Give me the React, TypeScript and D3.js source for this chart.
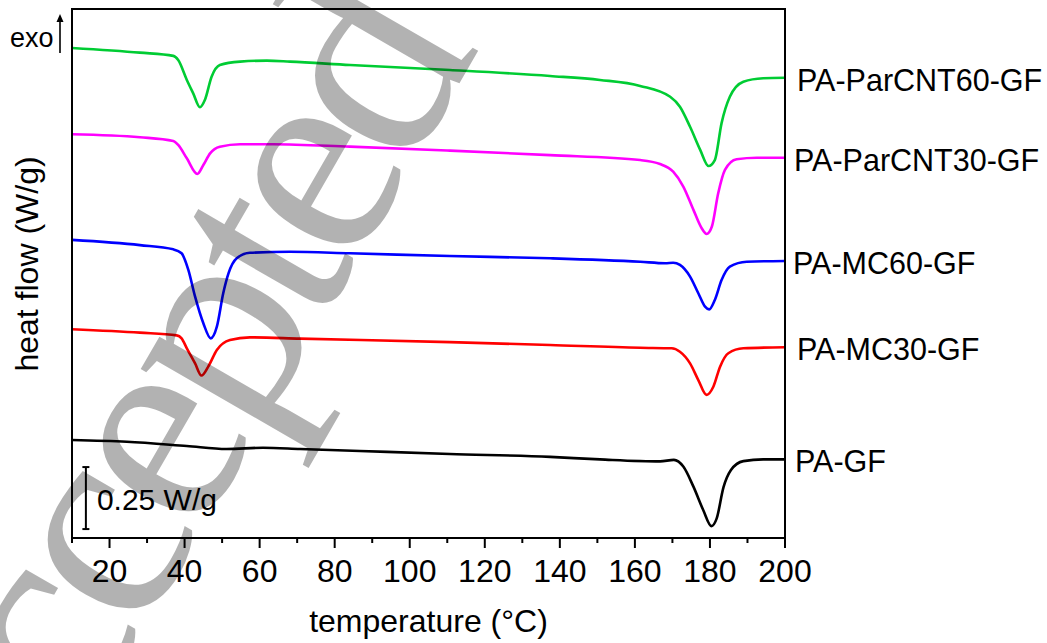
import React from "react";
import * as d3 from "d3";

const W = 1047;
const H = 643;
const M = { left: 72, top: 9, right: 785, bottom: 538 };

const xTicksMajor = [20, 40, 60, 80, 100, 120, 140, 160, 180, 200];
const xTicksMinor = [10, 30, 50, 70, 90, 110, 130, 150, 170, 190];

const seriesNames = ["PA-ParCNT60-GF", "PA-ParCNT30-GF", "PA-MC60-GF", "PA-MC30-GF", "PA-GF"];
const seriesColors = ["#00cc33", "#ff00ff", "#0000ff", "#ff0000", "#000000"];

const parCNT60: [number, number][] = [
  [10, 1.976], [28.1, 1.957], [37.0, 1.944], [38.3, 1.927], [40.6, 1.847], [42.3, 1.793],
  [44.1, 1.737], [45.4, 1.766], [47.2, 1.86], [49.4, 1.907], [54.8, 1.921], [61.9, 1.925],
  [68.1, 1.921], [84.1, 1.907], [110.7, 1.887], [137.4, 1.863], [150.7, 1.847], [161.4, 1.823],
  [169.4, 1.779], [172.0, 1.739], [174.7, 1.658], [177.4, 1.565], [179.6, 1.5], [181.3, 1.524],
  [183.1, 1.673], [185.3, 1.779], [188.9, 1.84], [194.2, 1.854], [200, 1.856],
];
const parCNT30: [number, number][] = [
  [10, 1.628], [28.1, 1.616], [37.0, 1.601], [38.3, 1.585], [40.6, 1.531], [43.4, 1.468],
  [45.0, 1.504], [46.8, 1.551], [49.4, 1.578], [54.8, 1.588], [63.6, 1.588], [84.1, 1.578],
  [110.7, 1.562], [137.4, 1.544], [161.4, 1.524], [166.7, 1.508], [170.2, 1.477], [172.9, 1.417],
  [175.6, 1.323], [177.8, 1.249], [179.1, 1.226], [180.5, 1.255], [182.2, 1.39], [184.0, 1.484],
  [187.1, 1.527], [192.5, 1.533], [200, 1.533],
];
const mc60: [number, number][] = [
  [10, 1.202], [28.1, 1.181], [37.0, 1.164], [39.2, 1.148], [41.0, 1.081], [42.8, 0.973],
  [45.0, 0.866], [47.0, 0.805], [48.6, 0.852], [50.3, 0.987], [51.7, 1.067], [53.9, 1.128],
  [57.4, 1.15], [68.1, 1.154], [84.1, 1.148], [110.7, 1.137], [137.4, 1.128], [161.4, 1.114],
  [168.1, 1.108], [170.2, 1.11], [172.0, 1.101], [174.7, 1.054], [176.9, 0.987], [178.7, 0.933],
  [179.8, 0.922], [181.3, 0.96], [183.1, 1.04], [185.3, 1.094], [189.8, 1.114], [200, 1.117],
];
const mc30: [number, number][] = [
  [10, 0.842], [28.1, 0.828], [37.9, 0.817], [39.2, 0.805], [40.6, 0.765], [42.8, 0.704],
  [44.5, 0.655], [46.3, 0.691], [48.6, 0.758], [52.1, 0.798], [57.4, 0.809], [70.8, 0.804],
  [110.7, 0.79], [137.4, 0.778], [161.4, 0.767], [169.8, 0.765], [172.0, 0.751], [174.7, 0.704],
  [176.9, 0.637], [179.1, 0.577], [180.9, 0.61], [182.7, 0.691], [184.9, 0.745], [188.9, 0.765],
  [200, 0.769],
];
const paGF: [number, number][] = [
  [10, 0.395], [24.6, 0.388], [40.6, 0.371], [51.2, 0.359], [60.9, 0.364], [70.8, 0.359],
  [86.7, 0.351], [110.7, 0.339], [137.4, 0.327], [150.7, 0.317], [166.7, 0.309], [170.4, 0.315],
  [172.9, 0.288], [175.6, 0.207], [178.2, 0.113], [180.4, 0.048], [181.8, 0.079], [183.6, 0.204],
  [185.6, 0.274], [188.9, 0.31], [194.2, 0.317], [200, 0.317],
];
const seriesData = [parCNT60, parCNT30, mc60, mc30, paGF];
const labelDx = [12, 9, 8, 12, 10];

const scaleBarValue = 0.25;
const scaleBarStart = 0.036;
const scaleBarTemp = 13.7;

const watermarkText = "Accepted";

const FONT = "Arial, 'Liberation Sans', sans-serif";

export default function App() {
  const x = d3.scaleLinear().domain([10, 200]).range([M.left, M.right]);
  const y = d3.scaleLinear().domain([0, (M.bottom - M.top) / 248]).range([M.bottom, M.top]);
  const line = d3
    .line<[number, number]>()
    .x((d) => x(d[0]))
    .y((d) => y(d[1]))
    .curve(d3.curveMonotoneX);

  const sbX = x(scaleBarTemp);
  const sbY0 = y(scaleBarStart);
  const sbY1 = y(scaleBarStart + scaleBarValue);

  return (
    <div style={{ position: "absolute", left: 0, top: 0 }}>
      <svg width={W} height={H} style={{ display: "block", background: "#fff" }} fontFamily={FONT}>
        {seriesData.map((s, i) => (
          <path key={i} d={line(s) || ""} fill="none" stroke={seriesColors[i]} strokeWidth={2.6} strokeLinejoin="round" />
        ))}
        {/* frame */}
        <rect x={M.left} y={M.top} width={M.right - M.left} height={M.bottom - M.top} fill="none" stroke="#000" strokeWidth={2} />
        {xTicksMajor.map((t) => (
          <line key={"M" + t} x1={x(t)} x2={x(t)} y1={M.bottom} y2={M.bottom + 10} stroke="#000" strokeWidth={2} />
        ))}
        {xTicksMinor.map((t) => (
          <line key={"m" + t} x1={x(t)} x2={x(t)} y1={M.bottom} y2={M.bottom + 5} stroke="#000" strokeWidth={2} />
        ))}
        {xTicksMajor.map((t) => (
          <text key={"l" + t} x={x(t)} y={582} fontSize={32} textAnchor="middle" fill="#000">
            {t}
          </text>
        ))}
        <text x={(M.left + M.right) / 2} y={632} fontSize={32} textAnchor="middle" fill="#000">
          temperature (°C)
        </text>
        <text transform={`translate(38,264) rotate(-90)`} fontSize={32} textAnchor="middle" fill="#000">
          heat flow (W/g)
        </text>
        {/* exo arrow */}
        <text x={10} y={47} fontSize={27} fill="#000">exo</text>
        <line x1={60} x2={60} y1={18} y2={53} stroke="#000" strokeWidth={1.6} />
        <path d="M60,14 L56.5,22 L63.5,22 Z" fill="#000" />
        {/* scale bar */}
        <line x1={sbX} x2={sbX} y1={sbY0} y2={sbY1} stroke="#000" strokeWidth={2} />
        <line x1={sbX - 3.5} x2={sbX + 3.5} y1={sbY0} y2={sbY0} stroke="#000" strokeWidth={2} />
        <line x1={sbX - 3.5} x2={sbX + 3.5} y1={sbY1} y2={sbY1} stroke="#000" strokeWidth={2} />
        <text x={sbX + 11} y={510} fontSize={30} fill="#000">{`${scaleBarValue} W/g`}</text>
        {/* labels */}
        {seriesData.map((s, i) => (
          <text key={"n" + i} x={M.right + labelDx[i]} y={y(s[s.length - 1][1]) + 13} fontSize={30.5} fill="#000">
            {seriesNames[i]}
          </text>
        ))}
        {/* watermark */}
        <text
          transform="translate(-15,905) rotate(-60)"
          fontSize={290}
          letterSpacing={-15}
          fontFamily="'Liberation Serif', 'Times New Roman', serif"
          fill="#000"
          fillOpacity={0.3}
        >
          {watermarkText}
        </text>
      </svg>
    </div>
  );
}
